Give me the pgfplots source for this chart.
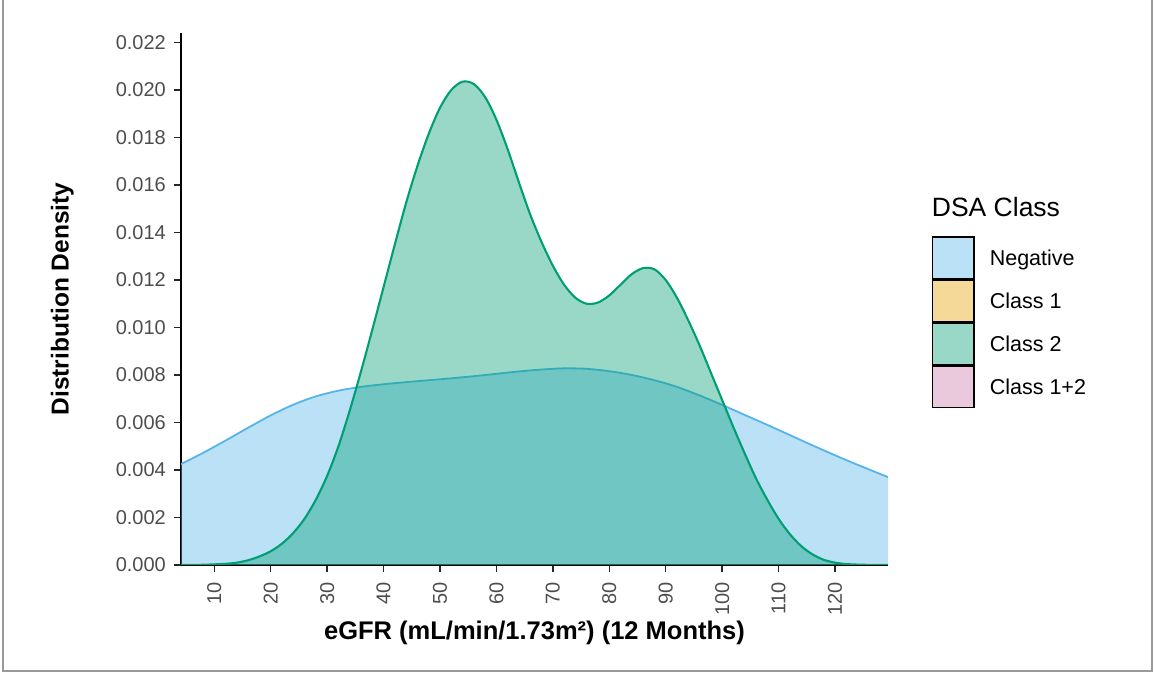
\documentclass[border=0pt]{standalone}
\usepackage{fontspec}
\setmainfont{Liberation Sans}
\usepackage{pgfplots}
\usepackage{pgfplotstable}
\pgfplotsset{compat=1.18}
\definecolor{negC}{HTML}{56B4E9}
\definecolor{cOne}{HTML}{E69F00}
\definecolor{cTwo}{HTML}{009E73}
\definecolor{cOneTwo}{HTML}{CC79A7}
\definecolor{tickgray}{HTML}{4D4D4D}

\pgfplotstableread{
x y
4.1 0.00425
8 0.00472
12 0.00524
16 0.00578
20 0.00630
24 0.00675
28 0.00710
32 0.00734
36 0.00750
40 0.00761
44 0.00770
48 0.00778
52 0.00786
56 0.00795
60 0.00805
64 0.00815
68 0.00823
72 0.00828
76 0.00826
80 0.00816
84 0.00800
88 0.00778
92 0.00750
96 0.00714
100 0.00674
104 0.00632
108 0.00590
112 0.00547
116 0.00504
120 0.00462
124 0.00422
129.4 0.00370
}\negtable

\pgfplotstableread{
x y
4.1 0.00000
8 0.00001
12 0.00005
14 0.00010
16 0.00020
18 0.00036
20 0.00058
22 0.00090
24 0.00135
26 0.00195
28 0.00275
30 0.00375
32 0.00500
34 0.00650
36 0.00815
38 0.00990
40 0.01170
42 0.01350
44 0.01525
46 0.01680
48 0.01815
50 0.01925
52 0.02000
54 0.02035
56 0.02025
58 0.01970
60 0.01875
62 0.01750
64 0.01610
66 0.01475
68 0.01360
70 0.01260
72 0.01180
74 0.01125
76 0.01100
78 0.01105
80 0.01135
82 0.01180
84 0.01225
86 0.01250
88 0.01245
90 0.01200
92 0.01125
94 0.01030
96 0.00925
98 0.00810
100 0.00695
102 0.00580
104 0.00470
106 0.00365
108 0.00275
110 0.00195
112 0.00130
114 0.00080
116 0.00045
118 0.00022
120 0.00010
122 0.00004
125 0.00001
129.4 0.00000
}\classtwotable

\begin{document}
\begin{tikzpicture}
\path[use as bounding box] (0pt,0pt) rectangle (1155pt,674pt);
\draw[color=black!40, line width=1.5pt] (3pt,674pt) -- (3pt,3pt) -- (1152pt,3pt) -- (1152pt,674pt);
\begin{axis}[
  at={(181pt,109pt)}, anchor=south west,
  scale only axis, width=707pt, height=532pt,
  xmin=4.1, xmax=129.4, ymin=0, ymax=0.0224,
  axis x line*=bottom, axis y line*=left,
  axis line style={line width=1.6pt, black},
  tick align=outside, major tick length=7pt,
  every tick/.style={line width=1.5pt, black!85},
  xtick={10,20,...,120},
  ytick={0,0.002,0.004,0.006,0.008,0.010,0.012,0.014,0.016,0.018,0.020,0.022},
  scaled y ticks=false,
  /pgf/number format/assume math mode=true,
  tick label style={font=\fontsize{20}{23}\selectfont, color=tickgray},
  yticklabel style={inner xsep=8pt, /pgf/number format/fixed, /pgf/number format/fixed zerofill, /pgf/number format/precision=3},
  xticklabel style={rotate=90, anchor=east, inner xsep=10pt},
  xlabel={eGFR (mL/min/1.73m²) (12 Months)},
  ylabel={Distribution Density},
  every axis x label/.style={at={(axis description cs:0.5,-0.128)}, anchor=center, font=\bfseries\fontsize{25.5}{29}\selectfont},
  every axis y label/.style={at={(axis description cs:-0.168,0.5)}, rotate=90, anchor=center, font=\bfseries\fontsize{24.5}{28}\selectfont},
  legend style={draw=none, fill=none, at={(axis description cs:1.0618,0.6184)}, anchor=north west,
    inner sep=0pt, outer sep=0pt, row sep=0pt, font=\fontsize{21.5}{25}\selectfont,
    nodes={inner sep=0pt, text depth=0pt},
    /tikz/every odd column/.append style={column sep=15pt}},
  legend cell align=left,
  legend image code/.code={\draw[#1, draw=black, line width=1.6pt] (0pt,-20.75pt) rectangle (41.5pt,20.75pt);},
]
\addplot[fill=negC, fill opacity=0.4, draw=none, forget plot] table[x=x,y=y] {\negtable} \closedcycle;
\addplot[smooth, color=negC, line width=1.8pt, no marks, forget plot] table[x=x,y=y] {\negtable};
\addplot[fill=cTwo, fill opacity=0.4, draw=none, forget plot] table[x=x,y=y] {\classtwotable} \closedcycle;
\addplot[smooth, color=cTwo, line width=2.1pt, no marks, forget plot] table[x=x,y=y] {\classtwotable};
\addlegendimage{fill=negC!40}
\addlegendentry{Negative}
\addlegendimage{fill=cOne!40}
\addlegendentry{Class 1}
\addlegendimage{fill=cTwo!40}
\addlegendentry{Class 2}
\addlegendimage{fill=cOneTwo!40}
\addlegendentry{Class 1+2}
\end{axis}
\node[anchor=base west, inner sep=0pt, font=\fontsize{26.5}{31}\selectfont] at (931.7pt,457pt) {DSA Class};
\end{tikzpicture}
\end{document}
